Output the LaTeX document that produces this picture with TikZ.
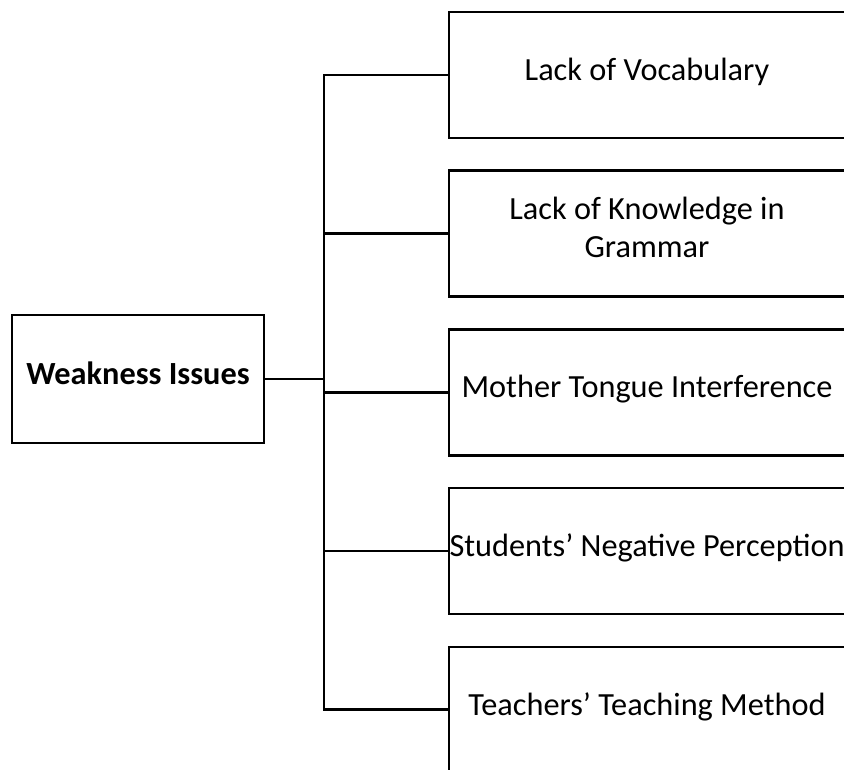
\documentclass[tikz,border=0pt]{standalone}
\usepackage{fontspec}
\setmainfont{Carlito}
\usetikzlibrary{positioning, calc}
\tikzset{
  box/.style={draw, line width=2.5pt, align=center, inner xsep=0pt, text depth=12pt, font=\fontsize{32.3}{38}\selectfont},
  root/.style={box, minimum width=252pt, minimum height=128pt, font=\fontsize{32.3}{38}\selectfont\bfseries},
  item/.style={box, minimum width=396pt, minimum height=126pt},
  link/.style={line width=2.8pt}
}
\begin{document}
\begin{tikzpicture}[x=1pt, y=1pt, node distance=30.2pt]
  \useasboundingbox (0,0) rectangle (844,770);
  \node[root] (weak) at (138,391) {Weakness Issues};

  \node[item] (b1) at (647,695) {Lack of Vocabulary};
  \node[item,below=of b1] (b2) {Lack of Knowledge in\\Grammar};
  \node[item,below=of b2] (b3) {Mother Tongue Interference};
  \node[item,below=of b3] (b4) {Students’ Negative Perception};
  \node[item,below=of b4] (b5) {Teachers’ Teaching Method};

  \coordinate (jt) at (324,0);
  \draw[link] (b1.west) -| (jt |- b5.west) -- (b5.west);
  \foreach \n in {b2,b3,b4}
    \draw[link] (\n.west) -- (jt |- \n.west);
  \draw[link] (weak.east) -- (jt |- weak.east);
\end{tikzpicture}
\end{document}
